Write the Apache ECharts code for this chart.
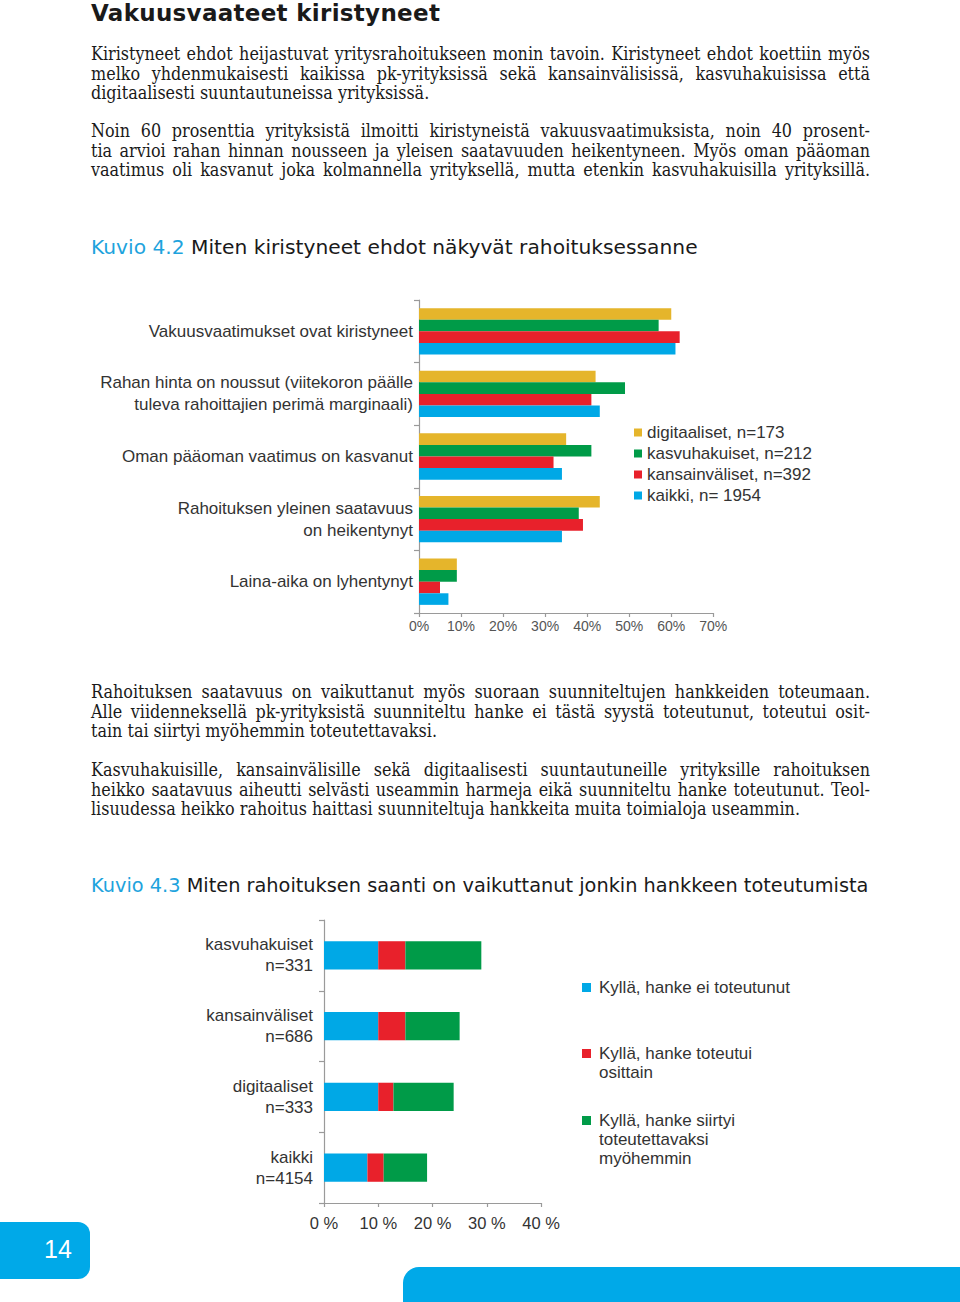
<!DOCTYPE html>
<html><head><meta charset="utf-8">
<script src="https://cdn.jsdelivr.net/npm/echarts@6/dist/echarts.min.js"></script>
<style>
html,body{margin:0;padding:0;background:#fff;}
#page{position:relative;width:960px;height:1302px;overflow:hidden;background:#fff;}
#chart{position:absolute;left:0;top:0;width:960px;height:1302px;}
.t{position:absolute;white-space:nowrap;color:#1a1a1a;}
.body{font-family:"DejaVu Serif Condensed","DejaVu Serif",serif;font-size:17.8px;line-height:19.5px;left:91px;width:779px;}
.body div{white-space:nowrap;}
.body .j{text-align:justify;text-align-last:justify;}
.h1{font-family:"DejaVu Sans",sans-serif;font-weight:bold;font-size:23px;left:91px;top:0px;line-height:26px;letter-spacing:0.3px;}
.h2{font-family:"DejaVu Sans",sans-serif;font-size:18px;left:91px;line-height:22px;}
.h2 .k{color:#1ea3dd;}
#pnum{position:absolute;left:-20px;top:1222px;width:110px;height:57px;background:#00a9e8;border-radius:12px;}
#pnum span{position:absolute;left:78px;top:12px;color:#fff;font-family:"Liberation Sans",Arial,sans-serif;font-size:25px;line-height:30px;transform:translateX(-50%);}
#bbar{position:absolute;left:403px;top:1267px;width:600px;height:60px;background:#00a9e8;border-radius:16px;}
</style></head>
<body><div id="page">
<div id="chart"></div>
<div class="t h1">Vakuusvaateet kiristyneet</div>
<div class="t body" style="top:44px">
<div class="j">Kiristyneet ehdot heijastuvat yritysrahoitukseen monin tavoin. Kiristyneet ehdot koettiin myös</div>
<div class="j">melko yhdenmukaisesti kaikissa pk-yrityksissä sekä kansainvälisissä, kasvuhakuisissa että</div>
<div>digitaalisesti suuntautuneissa yrityksissä.</div>
</div>
<div class="t body" style="top:121px">
<div class="j">Noin 60 prosenttia yrityksistä ilmoitti kiristyneistä vakuusvaatimuksista, noin 40 prosent-</div>
<div class="j">tia arvioi rahan hinnan nousseen ja yleisen saatavuuden heikentyneen. Myös oman pääoman</div>
<div class="j">vaatimus oli kasvanut joka kolmannella yrityksellä, mutta etenkin kasvuhakuisilla yrityksillä.</div>
</div>
<div class="t h2" id="h42" data-w="607" style="top:236px"><span class="k">Kuvio 4.2</span> Miten kiristyneet ehdot näkyvät rahoituksessanne</div>
<div class="t body" style="top:682px">
<div class="j">Rahoituksen saatavuus on vaikuttanut myös suoraan suunniteltujen hankkeiden toteumaan.</div>
<div class="j">Alle viidenneksellä pk-yrityksistä suunniteltu hanke ei tästä syystä toteutunut, toteutui osit-</div>
<div>tain tai siirtyi myöhemmin toteutettavaksi.</div>
</div>
<div class="t body" style="top:760px">
<div class="j">Kasvuhakuisille, kansainvälisille sekä digitaalisesti suuntautuneille yrityksille rahoituksen</div>
<div class="j">heikko saatavuus aiheutti selvästi useammin harmeja eikä suunniteltu hanke toteutunut. Teol-</div>
<div>lisuudessa heikko rahoitus haittasi suunniteltuja hankkeita muita toimialoja useammin.</div>
</div>
<div class="t h2" id="h43" data-w="778" style="top:875px"><span class="k">Kuvio 4.3</span> Miten rahoituksen saanti on vaikuttanut jonkin hankkeen toteutumista</div>
<div id="pnum"><span>14</span></div>
<div id="bbar"></div>
</div>
<script>
// ---- Chart 4.2 data ----
var cats1 = ['Vakuusvaatimukset ovat kiristyneet',
  'Rahan hinta on noussut (viitekoron päälle\ntuleva rahoittajien perimä marginaali)',
  'Oman pääoman vaatimus on kasvanut',
  'Rahoituksen yleinen saatavuus\non heikentynyt',
  'Laina-aika on lyhentynyt'];
var names1 = ['digitaaliset, n=173', 'kasvuhakuiset, n=212', 'kansainväliset, n=392', 'kaikki, n= 1954'];
var digitaaliset = [60, 42, 35, 43, 9];
var kasvuhakuiset = [57, 49, 41, 38, 9];
var kansainvaliset = [62, 41, 32, 39, 5];
var kaikki = [61, 43, 34, 34, 7];
var ticks1 = [0, 10, 20, 30, 40, 50, 60, 70];

// ---- Chart 4.3 data ----
var cats2 = ['kasvuhakuiset\nn=331', 'kansainväliset\nn=686', 'digitaaliset\nn=333', 'kaikki\nn=4154'];
var names2 = ['Kyllä, hanke ei toteutunut', 'Kyllä, hanke toteutui\nosittain', 'Kyllä, hanke siirtyi\ntoteutettavaksi\nmyöhemmin'];
var eiToteutunut = [10, 10, 10, 8];
var osittain = [5, 5, 2.8, 3];
var siirtyi = [14, 10, 11.1, 8];
var ticks2 = [0, 10, 20, 30, 40];

var YEL = '#e5b52b', GRN = '#009b48', RED = '#e8212b', BLU = '#00a8e6';
var FONT = '"Liberation Sans", Arial, sans-serif';
var TXT = '#333';

var chart = echarts.init(document.getElementById('chart'), null, {renderer: 'svg'});

var vals1 = [digitaaliset, kasvuhakuiset, kansainvaliset, kaikki];
var cols1 = [YEL, GRN, RED, BLU];
var series = [];
for (var i = 0; i < 4; i++) {
  series.push({name: names1[i], type: 'bar', xAxisIndex: 0, yAxisIndex: 0,
    data: vals1[i], barGap: '0%', barCategoryGap: '26%',
    itemStyle: {color: cols1[i]}});
}
var vals2 = [eiToteutunut, osittain, siirtyi];
var cols2 = [BLU, RED, GRN];
for (var j = 0; j < 3; j++) {
  series.push({name: names2[j], type: 'bar', stack: 'h', xAxisIndex: 1, yAxisIndex: 1,
    data: vals2[j], barCategoryGap: '60%', itemStyle: {color: cols2[j]}});
}

var legendGraphics = [];
var legTops = [987, 1053, 1120];
for (var k = 0; k < 3; k++) {
  legendGraphics.push({type: 'rect', left: 582, top: legTops[k] - 4, shape: {width: 9, height: 9}, style: {fill: cols2[k]}});
  legendGraphics.push({type: 'text', left: 599, top: legTops[k] - 9.5,
    style: {text: names2[k], fill: TXT, font: '17px ' + FONT, lineHeight: 19}});
}

var axisLineStyle = {color: '#9a9a9a', width: 1.2};
chart.setOption({
  animation: false,
  textStyle: {fontFamily: FONT},
  grid: [
    {left: 419, top: 300, width: 294.3, height: 313, containLabel: false},
    {left: 324, top: 920, width: 217, height: 283, containLabel: false}
  ],
  xAxis: [
    {type: 'value', gridIndex: 0, min: ticks1[0], max: ticks1[ticks1.length - 1], interval: 10,
      axisLine: {show: true, lineStyle: axisLineStyle},
      axisTick: {show: true, length: 4, lineStyle: axisLineStyle},
      splitLine: {show: false},
      axisLabel: {formatter: '{value}%', color: '#555', fontSize: 14, margin: 6}},
    {type: 'value', gridIndex: 1, min: ticks2[0], max: ticks2[ticks2.length - 1], interval: 10,
      axisLine: {show: true, lineStyle: axisLineStyle},
      axisTick: {show: true, length: 4, lineStyle: axisLineStyle},
      splitLine: {show: false},
      axisLabel: {formatter: '{value} %', color: TXT, fontSize: 16.5, margin: 11}}
  ],
  yAxis: [
    {type: 'category', gridIndex: 0, data: cats1, inverse: true,
      axisLine: {show: true, lineStyle: axisLineStyle},
      axisTick: {show: true, length: 5, lineStyle: axisLineStyle},
      axisLabel: {color: TXT, fontSize: 17, lineHeight: 22, margin: 6, align: 'right'}},
    {type: 'category', gridIndex: 1, data: cats2, inverse: true,
      axisLine: {show: true, lineStyle: axisLineStyle},
      axisTick: {show: true, length: 5, lineStyle: axisLineStyle},
      axisLabel: {color: TXT, fontSize: 17, lineHeight: 21, margin: 11, align: 'right'}}
  ],
  legend: [{
    data: names1, orient: 'vertical', left: 634, top: 424, icon: 'rect', padding: 0,
    itemWidth: 8, itemHeight: 8, itemGap: 4,
    textStyle: {color: TXT, fontSize: 17, lineHeight: 17, fontFamily: FONT}
  }],
  graphic: legendGraphics,
  series: series
});

// fit justified lines that overflow
document.querySelectorAll('.body div').forEach(function (d) {
  var s = document.createElement('span');
  s.textContent = d.textContent;
  s.style.whiteSpace = 'nowrap';
  d.textContent = '';
  d.appendChild(s);
  var w = s.getBoundingClientRect().width;
  d.textContent = s.textContent;
  if (w > 779) {
    d.style.transformOrigin = 'left center';
    d.style.transform = 'scaleX(' + (779 / w) + ')';
    d.style.width = w + 'px';
  }
});
// fit headings to their target widths
['h42', 'h43'].forEach(function (id) {
  var el = document.getElementById(id);
  var target = +el.getAttribute('data-w');
  var w = el.getBoundingClientRect().width;
  el.style.fontSize = (18 * target / w) + 'px';
});
</script>
</body></html>
